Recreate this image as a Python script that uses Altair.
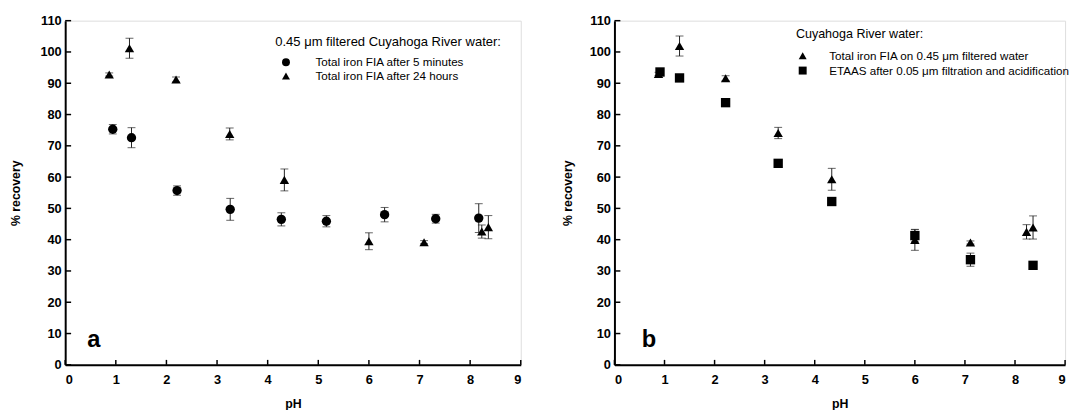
import altair as alt
import pandas as pd

# ---------------- data ----------------
ph_ticks = [0, 1, 2, 3, 4, 5, 6, 7, 8, 9]
rec_ticks = [0, 10, 20, 30, 40, 50, 60, 70, 80, 90, 100, 110]

# panel a
a_5min_ph = [0.94, 1.31, 2.21, 3.26, 4.27, 5.16, 6.31, 7.32, 8.17]
a_5min_val = [75.3, 72.6, 55.7, 49.7, 46.5, 45.9, 48.0, 46.7, 46.9]
a_5min_err = [1.5, 3.2, 1.5, 3.5, 2.1, 1.8, 2.3, 1.4, 4.6]

a_24h_ph = [0.87, 1.27, 2.19, 3.25, 4.33, 6.00, 7.09, 8.23, 8.36]
a_24h_val = [92.8, 101.2, 91.2, 73.8, 59.1, 39.5, 39.2, 42.6, 44.0]
a_24h_err = [0.5, 3.2, 0.8, 1.9, 3.5, 2.7, 0.5, 2.1, 3.7]

# panel b
b_fia_ph = [0.88, 1.30, 2.22, 3.27, 4.34, 6.00, 7.11, 8.23, 8.36]
b_fia_val = [93.0, 101.9, 91.6, 74.1, 59.3, 39.9, 39.1, 42.5, 43.9]
b_fia_err = [0.5, 3.2, 0.8, 1.8, 3.5, 3.3, 0.5, 2.3, 3.7]

b_etaas_ph = [0.91, 1.30, 2.22, 3.27, 4.34, 6.00, 7.11, 8.36]
b_etaas_val = [93.6, 91.7, 83.8, 64.4, 52.2, 41.3, 33.6, 31.8]
b_etaas_err = [0.8, 0.6, 0.8, 0.8, 0.6, 2.0, 2.1, 1.0]

a_names = ["Total iron FIA after 5 minutes", "Total iron FIA after 24 hours"]
b_names = ["Total iron FIA on 0.45 \u03bcm filtered water",
           "ETAAS after 0.05 \u03bcm filtration and acidification"]
a_title = "0.45 \u03bcm filtered Cuyahoga River water:"
b_title = "Cuyahoga River water:"

FONT = "Liberation Sans"


def frame(name, ph, val, err):
    return pd.DataFrame({"series": name, "ph": ph, "rec": val, "err": err})


def panel(df, names, shapes, ltitle, leg, letter, lpos, width, height, ytitle_pad):
    xscale = alt.Scale(domain=[0, 9], nice=False)
    yscale = alt.Scale(domain=[0, 110], nice=False)
    xaxis = alt.Axis(values=ph_ticks, format="d", tickSize=0, domainWidth=2, domainColor="black",
                     labelFont=FONT, labelFontWeight="bold", labelFontSize=13, labelColor="black",
                     labelPadding=9, title="pH", titleFont=FONT, titleFontSize=12.5,
                     titleFontWeight="bold", titleColor="black", titlePadding=11, grid=False)
    yaxis = alt.Axis(values=rec_ticks, format="d", tickSize=0, domainWidth=2, domainColor="black",
                     labelFont=FONT, labelFontWeight="bold", labelFontSize=13, labelColor="black",
                     labelPadding=4, title="% recovery", titleFont=FONT, titleFontSize=12.5,
                     titleFontWeight="bold", titleColor="black", titlePadding=ytitle_pad, grid=False)

    def X(f):
        return alt.X(f, type="quantitative", scale=xscale, axis=xaxis)

    def Y(f):
        return alt.Y(f, type="quantitative", scale=yscale, axis=yaxis)

    base = alt.Chart(df).transform_calculate(lo="datum.rec - datum.err", hi="datum.rec + datum.err")

    bars = base.mark_rule(color="#222", strokeWidth=1).encode(x=X("ph"), y=Y("lo"), y2="hi:Q")
    cap_lo = base.mark_tick(color="#222", thickness=1, size=8, orient="horizontal").encode(x=X("ph"), y=Y("lo"))
    cap_hi = base.mark_tick(color="#222", thickness=1, size=8, orient="horizontal").encode(x=X("ph"), y=Y("hi"))

    pts = base.mark_point(filled=True, opacity=1, color="black", size=90).encode(
        x=X("ph"), y=Y("rec"),
        shape=alt.Shape("series:N", scale=alt.Scale(domain=names, range=shapes),
                        legend=alt.Legend(title=ltitle, orient="none", legendX=leg["x"], legendY=leg["y"],
                                          titleFont=FONT, titleFontSize=leg["tfs"], titleFontWeight="normal",
                                          titleColor="black", titleLimit=500, titlePadding=leg["tpad"],
                                          titleAnchor="start", titleAlign="left",
                                          labelFont=FONT, labelFontSize=leg["lfs"], labelColor="black",
                                          labelLimit=500, labelOffset=leg["loff"], symbolOffset=leg["soff"],
                                          symbolSize=65, symbolFillColor="black",
                                          symbolStrokeColor="black", rowPadding=leg["rpad"], padding=0)),
    )

    xt = alt.Chart(pd.DataFrame({"ph": ph_ticks})).mark_rule(color="black", strokeWidth=1.5).encode(
        x=X("ph"), y=alt.value(height - 5), y2=alt.value(height))
    yt = alt.Chart(pd.DataFrame({"rec": rec_ticks})).mark_rule(color="black", strokeWidth=1.5).encode(
        y=Y("rec"), x=alt.value(0), x2=alt.value(6))

    lab = alt.Chart(pd.DataFrame({"letter": [letter]})).mark_text(
        font=FONT, fontSize=24, fontWeight="bold", color="black", align="center", baseline="alphabetic"
    ).encode(text="letter:N", x=alt.value(lpos[0]), y=alt.value(lpos[1]))

    return alt.layer(bars, cap_lo, cap_hi, pts, xt, yt, lab).properties(width=width, height=height)


df_a = pd.concat([frame(a_names[1], a_24h_ph, a_24h_val, a_24h_err),
                  frame(a_names[0], a_5min_ph, a_5min_val, a_5min_err)])
df_b = pd.concat([frame(b_names[0], b_fia_ph, b_fia_val, b_fia_err),
                  frame(b_names[1], b_etaas_ph, b_etaas_val, b_etaas_err)])

leg_a = {"x": 213, "y": 16, "tfs": 13.2, "lfs": 11.8, "tpad": 7, "loff": 24, "soff": 5, "rpad": 0}
leg_b = {"x": 184, "y": 8, "tfs": 12.7, "lfs": 11.8, "tpad": 9, "loff": 21, "soff": 1, "rpad": 0}

left = panel(df_a, a_names, ["circle", "triangle-up"], a_title, leg_a,
             "a", (29, 331), 462, 349, 18)
right = panel(df_b, b_names, ["triangle-up", "square"], b_title, leg_b,
              "b", (35, 331), 457, 349, 15)

chart = alt.hconcat(left, right, spacing=38).resolve_scale(shape="independent").properties(
    padding={"left": 0, "top": 3, "right": 0, "bottom": 0}
).configure_view(stroke="black", strokeWidth=1).configure(background="white")

chart.save("out.html", embed_options={"renderer": "svg", "actions": False})
